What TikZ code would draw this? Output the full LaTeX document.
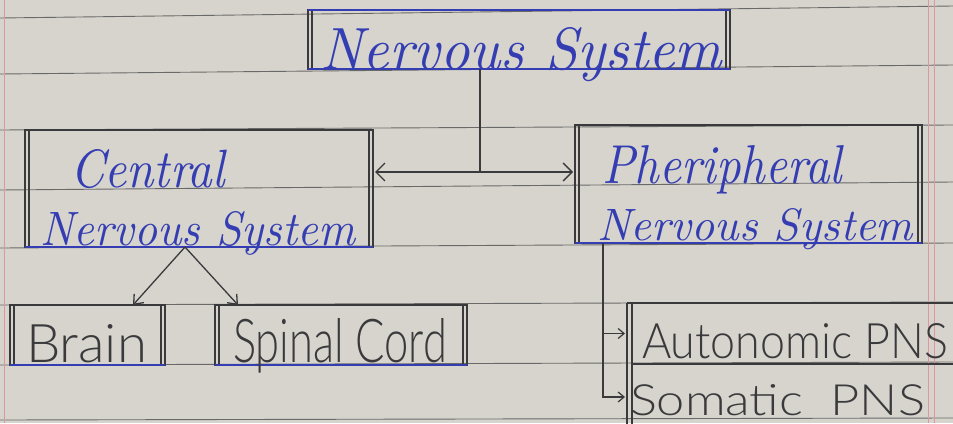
\documentclass[tikz,border=0pt]{standalone}
\usepackage{graphicx}
\usepackage{fontspec}
\newfontfamily\pencilfont{Lato Light}
\usetikzlibrary{arrows.meta}

\definecolor{paper}{RGB}{214,212,205}
\definecolor{ruling}{RGB}{105,105,104}
\definecolor{marginpink}{RGB}{222,150,160}
\definecolor{inkblue}{RGB}{52,62,178}
\definecolor{pencil}{RGB}{58,58,60}

% text squeezed into a given width and height (in pt)
\newcommand{\hw}[3]{\resizebox{#1pt}{#2pt}{#3}}

\tikzset{
  rule/.style={draw=ruling, line width=0.9pt},
  marginline/.style={draw=marginpink, line width=1pt},
  box/.style={draw=pencil, line width=1.6pt, inner sep=0pt, outer sep=0pt},
  cell/.style={inner sep=0pt, outer sep=0pt},
  edge/.style={draw=pencil, line width=1.5pt},
  inkedge/.style={draw=inkblue, line width=1.6pt},
  wire/.style={draw=pencil, line width=1.3pt},
  bigtip/.tip={Straight Barb[length=9pt, width=18pt, line width=1.3pt]},
  smalltip/.tip={Straight Barb[length=8pt, width=13pt, line width=1.3pt]},
  tinytip/.tip={Straight Barb[length=6pt, width=10pt, line width=1.2pt]},
  inktext/.style={text=inkblue, inner sep=0pt, outer sep=0pt, anchor=base west},
  penciltext/.style={text=pencil, inner sep=0pt, outer sep=0pt, anchor=base west,
    font=\pencilfont}
}

\newcommand{\sidelines}[1]{%
  \draw[edge] ([xshift=4pt]#1.north west) -- ([xshift=4pt]#1.south west)
              ([xshift=-4pt]#1.north east) -- ([xshift=-4pt]#1.south east);}

\begin{document}
\begin{tikzpicture}[x=1pt, y=-1pt]
\useasboundingbox (0,0) rectangle (953,423);
\clip (0,0) rectangle (953,423);

% ruled notebook page
\fill[paper] (0,0) rectangle (953,423);
\foreach \a/\b in {18/6, 74/65, 130/125, 190/182, 248/243, 305/302, 365/362, 420/418}
  \draw[rule] (0,\a) -- (953,\b);
\draw[marginline] (4,0) -- (4,423);
\draw[marginline] (928,0) -- (928,423);
\draw[marginline] (934,0) -- (934,423);

% boxes
\node[box, minimum width=422pt, minimum height=59pt] (ns) at (519,39.5) {};
\node[box, minimum width=348pt, minimum height=117pt] (cns) at (199,188.5) {};
\node[box, minimum width=347pt, minimum height=118pt] (pns) at (748.5,184) {};
\node[box, minimum width=155pt, minimum height=60pt] (brain) at (87.5,335) {};
\node[box, minimum width=252pt, minimum height=60pt] (spinal) at (341,335) {};
\node[cell, minimum width=333pt, minimum height=61pt] (auto) at (793.5,333.5) {};
\node[cell, minimum width=333pt, minimum height=66pt] (soma) at (793.5,397) {};

\sidelines{ns}
\sidelines{cns}
\sidelines{pns}
\sidelines{brain}
\sidelines{spinal}

% ink strokes along the box edges
\draw[inkedge] (ns.south west) -- (ns.south east);
\draw[inkedge] (ns.north west) -- (ns.north east);
\draw[inkedge] (cns.south west) -- (cns.south east);
\draw[inkedge] (pns.south west) -- (pns.south east);
\draw[inkedge] (brain.south west) -- (brain.south east);
\draw[inkedge] (spinal.south west) -- (spinal.south east);

% table of the two PNS divisions
\draw[edge] (auto.north west) -- (auto.north east);
\draw[edge] ([xshift=5pt]auto.south west) -- (auto.south east);
\draw[edge] (auto.north west) -- (soma.south west);
\draw[edge] ([xshift=5pt]auto.north west) -- ([xshift=5pt]soma.south west);

% labels
\node[inktext] (nst) at (320,69) {\hw{402}{42}{\itshape Nervous System}};
\node[inktext] (cnst1) at (70,187) {\hw{155}{38}{\itshape Central}};
\node[inktext] (cnst2) at (40,245) {\hw{315}{34}{\itshape Nervous System}};
\node[inktext] (pnst1) at (602,183) {\hw{240}{38}{\itshape Pheripheral}};
\node[inktext] (pnst2) at (597,240) {\hw{316}{32}{\itshape Nervous System}};
\node[penciltext] (braint) at (26,362) {\hw{121}{38}{Brain}};
\node[penciltext] (spinalt) at (233,362) {\hw{214}{44}{Spinal Cord}};
\node[penciltext] (autot) at (642,358) {\hw{306}{35}{Autonomic PNS}};
\node[penciltext] (somat) at (630,415) {\hw{295}{31}{Somatic\ \ PNS}};

% connectors
\coordinate (mid) at (480,172);
\draw[wire] (ns.south -| mid) -- (mid);
\draw[wire, bigtip-bigtip] ([xshift=2pt]cns.east |- mid) -- ([xshift=-2pt]pns.west |- mid);

\coordinate (fork) at ([xshift=-14pt]cns.south);
\draw[wire, -smalltip] (fork) -- ([xshift=45.5pt]brain.north);
\draw[wire, -smalltip] (fork) -- ([xshift=-103pt]spinal.north);

\coordinate (drop) at ([xshift=28pt]pns.south west);
\draw[wire, -tinytip] (drop) |- ([xshift=-2pt]auto.west);
\draw[wire, -tinytip] (drop) |- ([xshift=-2pt]soma.west);
\end{tikzpicture}
\end{document}
